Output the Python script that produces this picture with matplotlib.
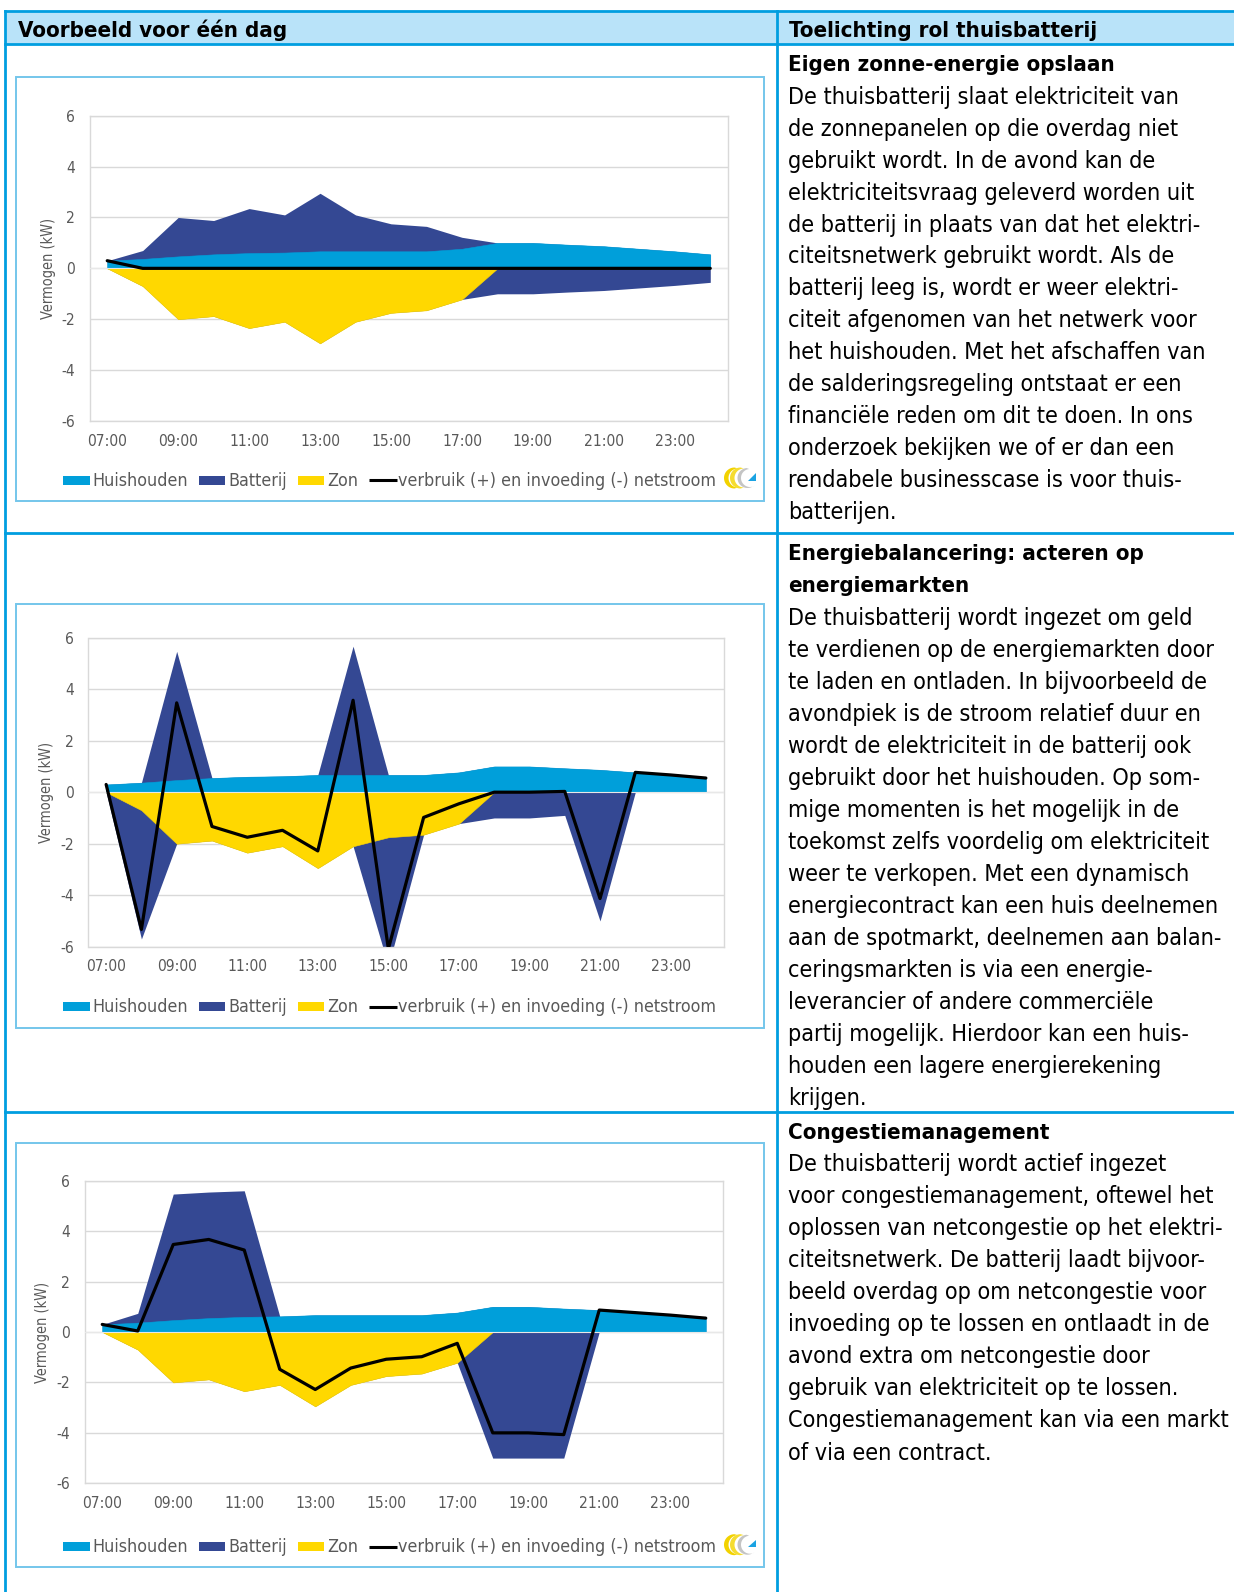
import numpy as np
import matplotlib
matplotlib.use("Agg")
import matplotlib.pyplot as plt
from matplotlib import font_manager
from matplotlib.patches import Rectangle, Polygon

# ---------------- data (kW per hour, 07:00 .. 24:00) ----------------
hours = np.arange(7, 25)
tick_hours = [7, 9, 11, 13, 15, 17, 19, 21, 23]
tick_labels = ["07:00", "09:00", "11:00", "13:00", "15:00",
               "17:00", "19:00", "21:00", "23:00"]
y_ticks = [-6, -4, -2, 0, 2, 4, 6]
y_tick_labels = ["-6", "-4", "-2", "0", "2", "4", "6"]

huishouden = [0.30, 0.37, 0.47, 0.55, 0.60, 0.62, 0.67, 0.67, 0.67,
              0.67, 0.77, 1.00, 1.00, 0.93, 0.87, 0.77, 0.67, 0.55]
zon = [0.00, -0.70, -2.00, -1.88, -2.35, -2.10, -2.95, -2.10, -1.75,
       -1.65, -1.22, 0.00, 0.00, 0.00, 0.00, 0.00, 0.00, 0.00]

# battery: positive = charging, negative = discharging
batterij_eigen = [0.00, 0.33, 1.53, 1.33, 1.75, 1.48, 2.28, 1.43, 1.08,
                  0.98, 0.45, -1.00, -1.00, -0.93, -0.87, -0.77, -0.67, -0.55]
netstroom_eigen = [0.30, 0.00, 0.00, 0.00, 0.00, 0.00, 0.00, 0.00, 0.00,
                   0.00, 0.00, 0.00, 0.00, 0.00, 0.00, 0.00, 0.00, 0.00]

batterij_markt = [0.00, -5.00, 5.00, 0.00, 0.00, 0.00, 0.00, 5.00, -5.00,
                  0.00, 0.00, -1.00, -1.00, -0.90, -5.00, 0.00, 0.00, 0.00]
netstroom_markt = [0.30, -5.33, 3.47, -1.33, -1.75, -1.48, -2.28, 3.57, -6.08,
                   -0.98, -0.45, 0.00, 0.00, 0.03, -4.13, 0.77, 0.67, 0.55]

batterij_congestie = [0.00, 0.37, 5.00, 5.00, 5.00, 0.00, 0.00, 0.00, 0.00,
                      0.00, 0.00, -5.00, -5.00, -5.00, 0.00, 0.00, 0.00, 0.00]
netstroom_congestie = [0.30, 0.04, 3.47, 3.67, 3.25, -1.48, -2.28, -1.43, -1.08,
                       -0.98, -0.45, -4.00, -4.00, -4.07, 0.87, 0.77, 0.67, 0.55]

legend_labels = ["Huishouden", "Batterij", "Zon",
                 "verbruik (+) en invoeding (-) netstroom"]
y_label = "Vermogen (kW)"

header_left = "Voorbeeld voor één dag"
header_right = "Toelichting rol thuisbatterij"

heading_eigen = ["Eigen zonne-energie opslaan"]
body_eigen = [
    "De thuisbatterij slaat elektriciteit van",
    "de zonnepanelen op die overdag niet",
    "gebruikt wordt. In de avond kan de",
    "elektriciteitsvraag geleverd worden uit",
    "de batterij in plaats van dat het elektri-",
    "citeitsnetwerk gebruikt wordt. Als de",
    "batterij leeg is, wordt er weer elektri-",
    "citeit afgenomen van het netwerk voor",
    "het huishouden. Met het afschaffen van",
    "de salderingsregeling ontstaat er een",
    "financiële reden om dit te doen. In ons",
    "onderzoek bekijken we of er dan een",
    "rendabele businesscase is voor thuis-",
    "batterijen.",
]
heading_markt = ["Energiebalancering: acteren op", "energiemarkten"]
body_markt = [
    "De thuisbatterij wordt ingezet om geld",
    "te verdienen op de energiemarkten door",
    "te laden en ontladen. In bijvoorbeeld de",
    "avondpiek is de stroom relatief duur en",
    "wordt de elektriciteit in de batterij ook",
    "gebruikt door het huishouden. Op som-",
    "mige momenten is het mogelijk in de",
    "toekomst zelfs voordelig om elektriciteit",
    "weer te verkopen. Met een dynamisch",
    "energiecontract kan een huis deelnemen",
    "aan de spotmarkt, deelnemen aan balan-",
    "ceringsmarkten is via een energie-",
    "leverancier of andere commerciële",
    "partij mogelijk. Hierdoor kan een huis-",
    "houden een lagere energierekening",
    "krijgen.",
]
heading_congestie = ["Congestiemanagement"]
body_congestie = [
    "De thuisbatterij wordt actief ingezet",
    "voor congestiemanagement, oftewel het",
    "oplossen van netcongestie op het elektri-",
    "citeitsnetwerk. De batterij laadt bijvoor-",
    "beeld overdag op om netcongestie voor",
    "invoeding op te lossen en ontlaadt in de",
    "avond extra om netcongestie door",
    "gebruik van elektriciteit op te lossen.",
    "Congestiemanagement kan via een markt",
    "of via een contract.",
]

# ---------------- styling ----------------
C_HUIS = "#009FDA"
C_BAT = "#344893"
C_ZON = "#FFD800"
C_GRID = "#D9D9D9"
C_AXTXT = "#595959"
C_TABLE = "#009EE0"
C_HEAD = "#B9E3F9"
C_BOX = "#74C6EB"

W, H, DPI = 1234, 1592, 100
fig = plt.figure(figsize=(W / DPI, H / DPI), dpi=DPI)
fig.patch.set_facecolor("white")
renderer = fig.canvas.get_renderer()


def condensed_font(weight):
    for f in font_manager.fontManager.ttflist:
        w = f.weight if isinstance(f.weight, (int, float)) else \
            font_manager.weight_dict.get(f.weight, 400)
        is_dejavu = f.name in ("DejaVu Sans", "DejaVu Sans Condensed")
        is_cond = (f.stretch == "condensed" or "Condensed" in f.name
                   or "Condensed" in f.fname)
        if is_dejavu and is_cond and f.style == "normal" and w == weight:
            return font_manager.FontProperties(fname=f.fname)
    return font_manager.FontProperties(family="Noto Sans", weight=weight)


FP_REG = condensed_font(400)
FP_BOLD = condensed_font(700)


def text_width(fp, text, size=20):
    p = fp.copy()
    p.set_size(size)
    t = fig.text(0, 0, text, fontproperties=p)
    w = t.get_window_extent(renderer=renderer).width
    t.remove()
    return w


def sized(fp, texts, width_px):
    """Font properties scaled so the widest of `texts` is `width_px` wide."""
    if isinstance(texts, str):
        texts = [texts]
    w = max(text_width(fp, s) for s in texts)
    out = fp.copy()
    out.set_size(20 * width_px / w)
    return out


fp_body = sized(FP_REG, body_eigen + body_markt + body_congestie, 440)
fp_head = sized(FP_BOLD, header_right, 309)
fp_tick = sized(FP_REG, "07:00", 40)
fp_leg = sized(FP_REG, legend_labels[3], 316)
fp_ylab = sized(FP_REG, y_label, 101)

# full-figure layer in pixel coordinates (y downwards) for the table
base = fig.add_axes([0, 0, 1, 1], zorder=0)
base.set_xlim(0, W)
base.set_ylim(H, 0)
base.axis("off")

# table header and grid lines
base.add_patch(Rectangle((5, 10.5), W - 5, 33, color=C_HEAD, lw=0))
lw_tab = 2.0
base.plot([5, W], [10.5, 10.5], color=C_TABLE, lw=lw_tab)
base.plot([5, W], [43.5, 43.5], color=C_TABLE, lw=lw_tab)
base.plot([5, W], [533, 533], color=C_TABLE, lw=lw_tab)
base.plot([5, W], [1112, 1112], color=C_TABLE, lw=lw_tab)
base.plot([5.3, 5.3], [10.5, H], color=C_TABLE, lw=lw_tab)
base.plot([776.7, 776.7], [10.5, H], color=C_TABLE, lw=lw_tab)

base.text(17.5, 37, header_left, fontproperties=fp_head, va="baseline")
base.text(789, 37, header_right, fontproperties=fp_head, va="baseline")

# explanatory text column
TX = 788
LINE = 32
sections = [
    (heading_eigen, body_eigen, 71, 104, 31.9),
    (heading_markt, body_markt, 560, 625, LINE),
    (heading_congestie, body_congestie, 1139, 1171.5, LINE),
]
for heading, body, y_head, y_body, step in sections:
    for i, line in enumerate(heading):
        base.text(TX, y_head + i * 32.5, line, fontproperties=fp_head,
                  va="baseline")
    for i, line in enumerate(body):
        base.text(TX, y_body + i * step, line, fontproperties=fp_body,
                  va="baseline")


def crescent(cx, cy, r_out, shift, r_in, a0, a1):
    t = np.radians(np.linspace(a0, a1, 40))
    outer = np.column_stack([cx + r_out * np.cos(t), cy - r_out * np.sin(t)])
    inner = np.column_stack([cx + shift + r_in * np.cos(t[::-1]),
                             cy - r_in * np.sin(t[::-1])])
    return np.vstack([outer, inner])


def draw_logo(x_left, cy):
    cx = x_left + 10.5
    base.add_patch(Polygon(crescent(cx, cy, 10.5, 3.5, 9.5, 90, 270),
                           closed=True, color="#F2D200", lw=0))
    base.add_patch(Polygon(crescent(cx + 6, cy, 10.5, 3.5, 9.5, 90, 270),
                           closed=True, color="#F5DC30", lw=0))
    base.add_patch(Polygon(crescent(cx + 13, cy, 10, 2.5, 9, 95, 300),
                           closed=True, color="#C4C4C4", lw=0))
    base.add_patch(Polygon([[x_left + 24, cy + 2.5], [x_left + 32, cy + 2.5],
                            [x_left + 32, cy - 5]], closed=True,
                           color="#1AA3E3", lw=0))


def draw_legend(x0, yc):
    x = x0
    kinds = [("patch", C_HUIS), ("patch", C_BAT), ("patch", C_ZON),
             ("line", "black")]
    for (kind, col), label in zip(kinds, legend_labels):
        if kind == "patch":
            base.add_patch(Rectangle((x, yc - 4.5), 26.5, 9, color=col, lw=0))
            x += 29.3
        else:
            base.plot([x, x + 27.5], [yc, yc], color=col, lw=2.2,
                      solid_capstyle="butt")
            x += 29
        t = base.text(x, yc + 5.5, label, fontproperties=fp_leg,
                      color=C_AXTXT, va="baseline")
        x += t.get_window_extent(renderer=renderer).width + 11


def draw_chart(box, plot, bat, net, legend_y, logo):
    bx0, by0, bx1, by1 = box
    base.add_patch(Rectangle((bx0, by0), bx1 - bx0, by1 - by0,
                             facecolor="white", edgecolor=C_BOX, lw=1.4))
    L, R, T, B = plot
    ax = fig.add_axes([L / W, 1 - B / H, (R - L) / W, (B - T) / H], zorder=2)
    ax.set_facecolor("white")

    huis = np.array(huishouden)
    z = np.array(zon)
    b = np.array(bat)
    top = huis + np.clip(b, 0, None)
    bottom = z + np.clip(b, None, 0)

    ax.fill_between(hours, 0, top, color=C_BAT, lw=0, zorder=2)
    ax.fill_between(hours, 0, bottom, color=C_BAT, lw=0, zorder=2)
    ax.fill_between(hours, 0, huis, facecolor=C_HUIS, edgecolor=C_HUIS,
                    lw=0.4, zorder=3)
    ax.fill_between(hours, z, 0, facecolor=C_ZON, edgecolor=C_ZON,
                    lw=0.4, zorder=3)
    ax.axhline(0, color="#E8E8E8", lw=0.8, zorder=4)
    ax.plot(hours, net, color="black", lw=2.3, zorder=5,
            solid_joinstyle="round", solid_capstyle="round")

    ax.set_xlim(6.5, 24.5)
    ax.set_ylim(-6, 6)
    ax.set_xticks(tick_hours, tick_labels)
    ax.set_yticks(y_ticks, y_tick_labels)
    ax.tick_params(length=0, colors=C_AXTXT)
    ax.tick_params(axis="y", pad=10.4)
    ax.tick_params(axis="x", pad=9.0)
    for lbl in ax.get_xticklabels() + ax.get_yticklabels():
        lbl.set_fontproperties(fp_tick)
        lbl.set_color(C_AXTXT)
    ax.grid(axis="y", color=C_GRID, lw=1.0)
    ax.set_axisbelow(True)
    for sp in ax.spines.values():
        sp.set_color(C_GRID)
        sp.set_linewidth(1.0)

    base.text(L - 41.5, (T + B) / 2, y_label, rotation=90, ha="center",
              va="center", fontproperties=fp_ylab, color=C_AXTXT)
    draw_legend(63, legend_y)
    if logo:
        draw_logo(724, legend_y - 2)


draw_chart((15.5, 76.5, 764, 500.5), (89.5, 728, 115.7, 421),
           batterij_eigen, netstroom_eigen, 480, True)
draw_chart((15.5, 604, 764, 1027.5), (88.5, 723.5, 637.7, 946.7),
           batterij_markt, netstroom_markt, 1006.7, False)
draw_chart((15.5, 1143, 764, 1567), (84.5, 723.5, 1180.7, 1483.3),
           batterij_congestie, netstroom_congestie, 1546.7, True)

fig.savefig("out.png", dpi=DPI, facecolor="white")
